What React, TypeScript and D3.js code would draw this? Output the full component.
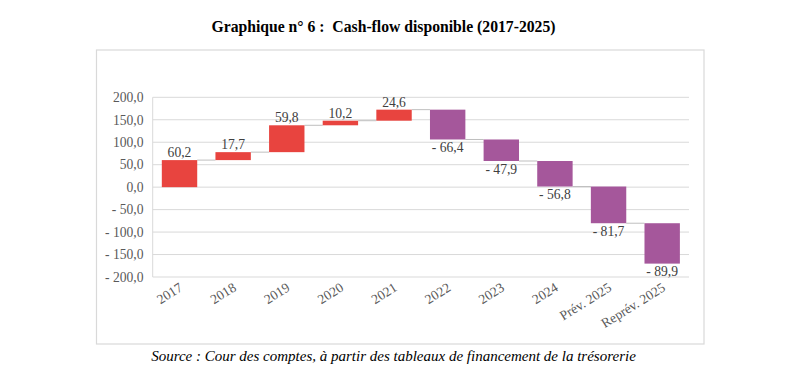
import React from "react";
import * as d3 from "d3";

const categories = ["2017", "2018", "2019", "2020", "2021", "2022", "2023", "2024", "Prév. 2025", "Reprév. 2025"];
const deltas = [60.2, 17.7, 59.8, 10.2, 24.6, -66.4, -47.9, -56.8, -81.7, -89.9];
const yTicks = [-200, -150, -100, -50, 0, 50, 100, 150, 200];
const title = "Graphique n° 6 :  Cash-flow disponible (2017-2025)";
const source = "Source : Cour des comptes, à partir des tableaux de financement de la trésorerie";

const W = 805;
const H = 380;
const RED = "#E8443F";
const PURPLE = "#A5579B";
const TEXT = "#404040";
const GRID = "#d9d9d9";

const fmt = (v: number) => {
  const s = Math.abs(v).toFixed(1).replace(".", ",");
  return v < 0 ? "- " + s : s;
};

export default function App() {
  const x = d3.scaleBand<string>().domain(categories).range([152.7, 689]).paddingInner(0.34).paddingOuter(0.17);
  const y = d3.scaleLinear().domain([-200, 200]).range([277, 97.3]);

  let cum = 0;
  const bars = deltas.map((d, i) => {
    const start = cum;
    const end = cum + d;
    cum = end;
    return { cat: categories[i], d, start, end };
  });

  const serif = "'Liberation Serif', 'Times New Roman', serif";

  return (
    <svg width={W} height={H} style={{ position: "absolute", left: 0, top: 0, background: "#fff" }} fontFamily={serif}>
      <text x={383.5} y={32} textAnchor="middle" fontWeight="bold" fontSize={15.7} fill="#000" style={{ whiteSpace: "pre" }}>{title}</text>
      <rect x={96.5} y={50} width={607.5} height={294} fill="none" stroke={GRID} strokeWidth={1.2} />
      {yTicks.map((t) => (
        <g key={t}>
          <line x1={152.7} x2={689} y1={y(t)} y2={y(t)} stroke={GRID} strokeWidth={1} />
          <text x={143.5} y={y(t)} dy="0.35em" textAnchor="end" fontSize={13.6} fill="#595959">{fmt(t)}</text>
        </g>
      ))}
      <line x1={152.7} x2={152.7} y1={y(200)} y2={y(-200)} stroke={GRID} strokeWidth={1} />
      {bars.slice(0, -1).map((b, i) => (
        <line key={"c" + i} x1={(x(b.cat) as number) + x.bandwidth()} x2={x(categories[i + 1]) as number}
          y1={y(b.end)} y2={y(b.end)} stroke="#bfbfbf" strokeWidth={1} />
      ))}
      {bars.map((b) => {
        const top = y(Math.max(b.start, b.end));
        const bottom = y(Math.min(b.start, b.end));
        const cx = (x(b.cat) as number) + x.bandwidth() / 2;
        return (
          <g key={b.cat}>
            <rect x={x(b.cat)} y={top} width={x.bandwidth()} height={bottom - top} fill={b.d >= 0 ? RED : PURPLE} />
            <text x={cx} y={b.d >= 0 ? top - 3 : bottom + 12.5} textAnchor="middle" fontSize={13.6} fill={TEXT}>{fmt(b.d)}</text>
          </g>
        );
      })}
      {categories.map((c) => {
        const cx = (x(c) as number) + x.bandwidth() / 2;
        return (
          <text key={c} transform={`translate(${cx + 4},${290}) rotate(-32)`} textAnchor="end" fontSize={13.6} fill="#595959">{c}</text>
        );
      })}
      <text x={393.5} y={361} textAnchor="middle" fontStyle="italic" fontSize={15} fill="#000">{source}</text>
    </svg>
  );
}
